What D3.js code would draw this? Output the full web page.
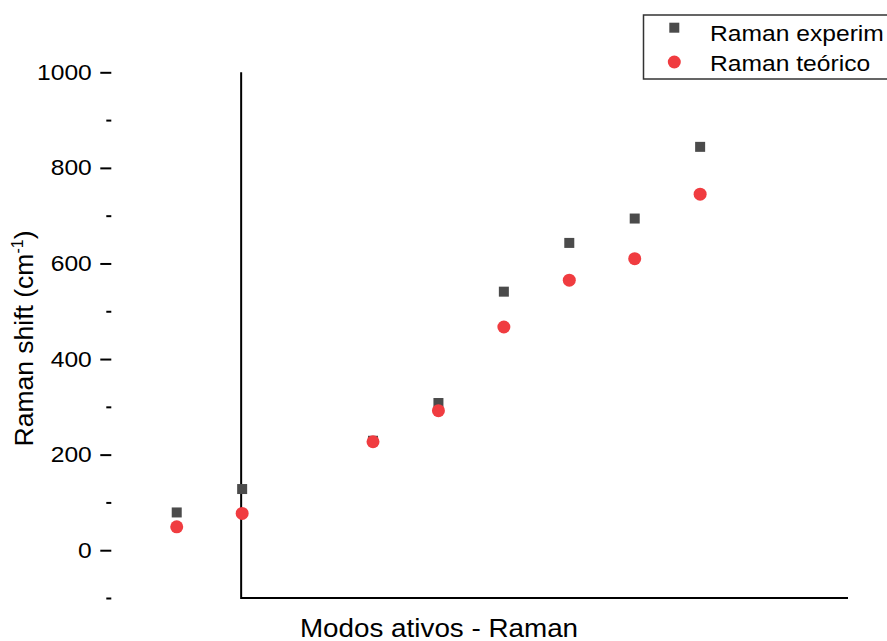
<!DOCTYPE html>
<html>
<head>
<meta charset="utf-8">
<script src="https://cdn.jsdelivr.net/npm/d3@7"></script>
<style>
  html, body { margin: 0; padding: 0; background: #fff; }
  svg { display: block; font-family: "Liberation Sans", Arial, sans-serif; }
</style>
</head>
<body>
<svg id="chart" width="887" height="641"></svg>
<script>
// Raman-active modes (mode 3 has no value)
const modes = [1, 2, 4, 5, 6, 7, 8, 9];
const experimental = [79, 128, 229, 308, 541, 643, 694, 844];
const theoretical = [49, 77, 227, 292, 467, 565, 610, 745];
const majorTicks = [0, 200, 400, 600, 800, 1000];
const minorTicks = [-100, 100, 300, 500, 700, 900];
const seriesNames = ["Raman experim", "Raman teórico"];
const xTitle = "Modos ativos - Raman";

const svg = d3.select("#chart");
const x = d3.scaleLinear().domain([0, 11.26]).range([111.3, 848]);
const y = d3.scaleLinear().domain([-100, 1000]).range([598, 72.3]);

const squareColor = "#4b4b4b";
const circleColor = "#f03c40";
const wide = 1.12; // horizontal widening of the label glyphs

// Left value axis: ticks only, no axis line
const yAxis = svg.append("g").attr("transform", `translate(${x(0)},0)`)
  .call(d3.axisLeft(y).tickValues(majorTicks).tickSize(11).tickPadding(8.5)
    .tickFormat(d3.format("d")));
yAxis.select(".domain").remove();
yAxis.selectAll(".tick line").attr("stroke", "#000").attr("stroke-width", 2);
yAxis.selectAll(".tick text").attr("font-size", 22).attr("fill", "#000")
  .attr("font-family", "Liberation Sans, Arial, sans-serif")
  .attr("x", -19.5 / wide)
  .attr("transform", `scale(${wide},1)`);

const yMinor = svg.append("g").attr("transform", `translate(${x(0)},0)`)
  .call(d3.axisLeft(y).tickValues(minorTicks).tickSize(5).tickFormat(""));
yMinor.select(".domain").remove();
yMinor.selectAll(".tick line").attr("stroke", "#000").attr("stroke-width", 2);

// Frame: left and bottom lines
svg.append("path")
  .attr("d", `M${x(2) - 1},${y(1000)}V${y(-100)}H${x(11.26)}`)
  .attr("fill", "none").attr("stroke", "#000").attr("stroke-width", 2);

// Experimental values (squares)
const sq = 10;
svg.append("g").selectAll("rect").data(modes).join("rect")
  .attr("x", (d) => x(d) - sq / 2)
  .attr("y", (d, i) => y(experimental[i]) - sq / 2)
  .attr("width", sq).attr("height", sq)
  .attr("fill", squareColor);

// Theoretical values (circles)
svg.append("g").selectAll("circle").data(modes).join("circle")
  .attr("cx", (d) => x(d))
  .attr("cy", (d, i) => y(theoretical[i]))
  .attr("r", 6.5)
  .attr("fill", circleColor);

// Axis titles
svg.append("text")
  .attr("transform", `translate(439,636.5) scale(1.07,1)`)
  .attr("text-anchor", "middle").attr("font-size", 26).attr("fill", "#000")
  .text(xTitle);

const yt = svg.append("text")
  .attr("transform", "translate(33,338.5) rotate(-90)")
  .attr("text-anchor", "middle").attr("font-size", 26.5).attr("fill", "#000");
yt.append("tspan").text("Raman shift (cm");
yt.append("tspan").attr("font-size", 16).attr("dy", -10).text("-1");
yt.append("tspan").attr("dy", 10).text(")");

// Legend
const lg = svg.append("g");
lg.append("rect").attr("x", 643.5).attr("y", 15).attr("width", 260).attr("height", 64)
  .attr("fill", "#fff").attr("stroke", "#333").attr("stroke-width", 1.5);
lg.append("rect").attr("x", 674.3 - sq / 2).attr("y", 27.7 - sq / 2)
  .attr("width", sq).attr("height", sq).attr("fill", squareColor);
lg.append("circle").attr("cx", 674.3).attr("cy", 62).attr("r", 6.5).attr("fill", circleColor);
lg.selectAll("text.leg").data(seriesNames).join("text")
  .attr("class", "leg")
  .attr("transform", (d, i) => `translate(710,${[40.7, 71][i]}) scale(${wide},1)`)
  .attr("font-size", 22).attr("fill", "#000")
  .text((d) => d);
</script>
</body>
</html>
